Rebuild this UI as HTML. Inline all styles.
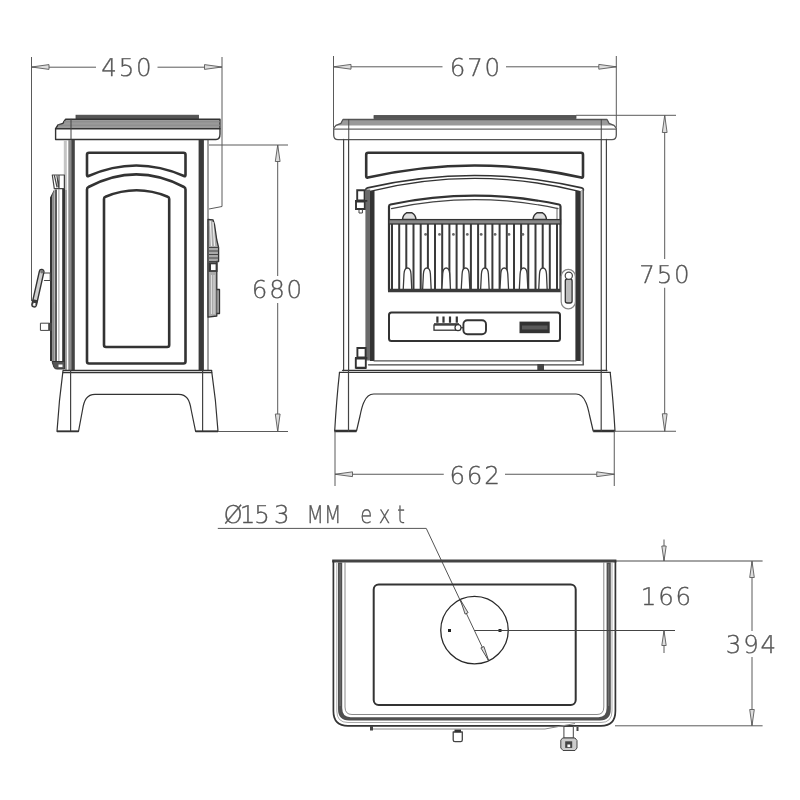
<!DOCTYPE html>
<html lang="en">
<head>
<meta charset="utf-8">
<title>Stove dimensions</title>
<style>
html,body{margin:0;padding:0;background:#fff;}
body{width:800px;height:800px;overflow:hidden;}
svg{display:block;}
.k{fill:none;stroke:#333;stroke-width:1.4;stroke-linejoin:round;stroke-linecap:round;}
.p{fill:none;stroke:#333;stroke-width:2.6;stroke-linejoin:round;}
.k2{fill:none;stroke:#444;stroke-width:1;stroke-linejoin:round;stroke-linecap:round;}
.g{fill:none;stroke:#8a8a8a;stroke-width:1;}
.d{fill:none;stroke:#5a5a5a;stroke-width:1;}
.a{fill:#ddd;stroke:#5a5a5a;stroke-width:0.9;stroke-linejoin:miter;}
.f{fill:#555;stroke:#444;stroke-width:0.8;}
text{text-rendering:geometricPrecision;font-family:"DejaVu Sans Light","DejaVu Sans","Liberation Sans",sans-serif;font-weight:200;font-size:24.5px;fill:#555;stroke:#555;stroke-width:0.35px;}
.dm{letter-spacing:1.8px;}
#all{opacity:0.999;filter:blur(0.4px);}
</style>
</head>
<body>
<svg width="800" height="800" viewBox="0 0 800 800">
<rect width="800" height="800" fill="#fff"/>
<g id="all">
<!-- ============ SIDE VIEW ============ -->
<g id="side">
<!-- dimension 450 -->
<path class="d" d="M31.5,57V301 M222,57V145 M31.5,67.2H96 M157.5,67.2H222"/>
<path class="a" d="M31.5,67 L49,64.6 L49,69.4Z M222,67 L204.5,64.6 L204.5,69.4Z"/>
<text class="dm" x="127.4" y="76" text-anchor="middle">450</text>
<!-- hob plate -->
<rect class="f" x="76" y="115.2" width="122.5" height="3.4"/>
<!-- top slab -->
<path d="M58,125 L63,123.3 L64,121.3 L65.5,119.3 H220 V128.7 H55.6 Z" fill="#9a9a9a" stroke="none"/>
<path class="k" d="M65.5,119.3 H220 V134 Q220,139.5 216,139.5 H55.6 V128.7 L58,125 L63,123.3 L64,121.3 Z"/>
<path class="k" d="M55.6,128.7 H220"/>
<path class="g" d="M64,121.8 H220 M58,125.2 H220"/>
<path class="k2" d="M71,119.3 V139.5"/>
<!-- body left edge -->
<rect x="63.8" y="140" width="3" height="50" fill="#c4c4c4"/>
<rect x="65" y="190" width="1.9" height="180.5" fill="#9c9c9c"/>
<rect x="68.3" y="140" width="3.2" height="230.5" fill="#8a8a8a"/>
<rect x="71.3" y="140" width="3.5" height="230.5" fill="#444"/>
<!-- body right edge -->
<rect x="198.6" y="140" width="5.3" height="230.5" fill="#3a3a3a"/>
<path class="k2" d="M208,140 V370.5"/>
<!-- back box -->
<path class="d" d="M209,145 H222 V206.5 L209,209"/>
<!-- panels -->
<path class="p" d="M89,152.7 H183.5 Q185.5,152.7 185.5,154.7 V175 Q185.5,176.8 184,176 Q136.3,155 88.5,176 Q87,176.8 87,175 V154.7 Q87,152.7 89,152.7Z"/>
<path class="p" d="M87,189.5 Q87,187.6 88.5,187 Q136.3,161.8 184,187 Q185.5,187.6 185.5,189.5 V361.5 Q185.5,363.5 183.5,363.5 H89 Q87,363.5 87,361.5Z"/>
<path class="p" d="M104,199 Q104,197.3 105.5,196.8 Q136.6,183.8 167.7,196.8 Q169.2,197.3 169.2,199 V345 Q169.2,347 167.2,347 H106 Q104,347 104,345Z"/>
<!-- left door -->
<path class="k2" style="stroke-width:1.2" d="M52.3,175 H64.4 V188.7 H54.3 Z M54.5,176 L57,187 M57,176 L58.5,187 M59,175 V188.7"/>
<path d="M54.2,189.5 L50,197.5 V361 H52.5 V196 L54.2,193Z" fill="#333"/>
<path d="M54.6,189.5 L52.5,194 V361 H54.7Z" fill="#888"/>
<rect x="55" y="189.5" width="2" height="171.5" fill="#5a5a5a"/>
<path d="M58.9,189 V361" stroke="#9a9a9a" stroke-width="1" fill="none"/>
<rect x="62.2" y="189" width="2.8" height="173" fill="#333"/>
<path d="M52,361.5 L54,367.5 Q55,369 57,369 H64.6 V361.5Z" fill="#555" stroke="#333" stroke-width="1"/>
<rect x="58.5" y="364.5" width="4" height="2.6" fill="#fff"/>
<!-- handle -->
<path class="k2" style="stroke-width:1.2" d="M44.5,273 H50.3 V280.5 H44.5"/>
<path d="M41.6,271.8 L34.2,304.6" stroke="#333" stroke-width="6" stroke-linecap="round" fill="none"/>
<path d="M41.6,271.8 L34.2,304.6" stroke="#d0d0d0" stroke-width="3.2" stroke-linecap="round" fill="none"/>
<path d="M35.3,299.8 L34.2,304.8" stroke="#3a3a3a" stroke-width="5" fill="none"/>
<path d="M34.6,303 L34.1,305.3" stroke="#fff" stroke-width="2.2" fill="none"/>
<circle cx="41.9" cy="271.8" r="1.7" fill="#777"/>
<!-- knob -->
<rect class="k2" x="40.8" y="323.2" width="8" height="7.2"/>
<rect x="48.6" y="322.8" width="3.2" height="8" fill="#444"/>
<!-- right thermostat -->
<path d="M208,219.3 L213,219.8 L214.6,225 L216.8,240 L218.6,247.5 V261.5 H216.8 V273 V289.5 H219.5 V313.5 H216.8 V316 L208,317.2 Z" fill="#aaa" stroke="#333" stroke-width="1.3" stroke-linejoin="round"/>
<path d="M210.3,221 L211.5,246 M213,222 L214.6,246" stroke="#eee" stroke-width="1.2" fill="none"/>
<path d="M209,247.5 H218.6 M209,251 H218.6 M209,254.5 H218.6 M209,258 H218.6 M209,261.5 H218.6" stroke="#444" stroke-width="1" fill="none"/>
<rect x="208.6" y="262.3" width="9" height="9.6" fill="#3a3a3a"/>
<rect x="211" y="264.3" width="4.6" height="5.8" fill="#fff"/>
<path d="M211.5,275 V314 M214,275 V314" stroke="#ddd" stroke-width="1" fill="none"/>
<path d="M216.8,289.5 V313.5" stroke="#444" stroke-width="1" fill="none"/>
<!-- base -->
<path class="k" style="stroke-width:1.3" d="M63.5,370.5 H211.6"/>
<path class="k" style="stroke-width:1.1" d="M63,372.6 H211.8"/>
<path class="k" style="stroke-width:1.2" d="M63,370.6 Q59,400 57,431.4 H78.5 L82.5,410 C84,400 87,394.3 95,394.3 H178.7 C186.7,394.3 189.7,400 191.2,410 L195.6,431.4 H218 Q216,400 211.6,370.6"/>
<path class="k2" style="stroke-width:1.2" d="M70.6,370.6 V431.4 M202.6,370.6 V431.4"/>
<path d="M57,431.4 H78.5 M195.6,431.4 H218" stroke="#333" stroke-width="1.8" fill="none"/>
<!-- dimension 680 -->
<path class="d" d="M222,145 H288 M218,431.5 H288 M277.7,145 V276 M277.7,303 V431.5"/>
<path class="a" d="M277.7,145 L275.3,161.5 H280.1Z M277.7,431.5 L275.3,414 H280.1Z"/>
<text class="dm" x="277.9" y="298" text-anchor="middle">680</text>
</g>
<!-- ============ FRONT VIEW ============ -->
<g id="front">
<!-- dimension 670 -->
<path class="d" d="M333.5,56V127.5 M616.3,56V127.5 M333.5,66.8H442.5 M506,66.8H616.3"/>
<path class="a" d="M333.5,66.8 L351,64.4 L351,69.2Z M616.3,66.8 L598.8,64.4 L598.8,69.2Z"/>
<text class="dm" x="475.9" y="76.2" text-anchor="middle">670</text>
<!-- hob plate -->
<rect class="f" x="374" y="115.6" width="202" height="2.8"/>
<!-- slab -->
<path d="M336,125.6 L341,123.5 L342,121.3 L343,119.4 H607 L608,121.3 L609,123.5 L614,125.6 Z" fill="#9a9a9a"/>
<path d="M343,119.5 H607 L608,121.3 L609,123.3 L614,125.4 L616.3,128.2 V135 Q616.3,139.6 612,139.6 H338 Q333.7,139.6 333.7,135 V128.2 L336,125.4 L341,123.3 L342,121.3Z" fill="none" stroke="#555" stroke-width="1.3" stroke-linejoin="round"/>
<path d="M333.7,129.2 H616.3" fill="none" stroke="#666" stroke-width="1.3"/>
<path class="k2" d="M348.75,119.5 V139.3 M601.25,119.5 V139.3"/>
<!-- body sides -->
<path class="k2" style="stroke-width:1.2" d="M343.6,139.3 V370.7 M348.6,139.3 V370.7 M601.25,139.3 V370.7 M606.4,139.3 V370.7"/>
<!-- upper panel -->
<path class="p" d="M368.2,152.7 H581 Q583,152.7 583,154.7 V176.3 Q583,178.2 581.3,177.6 Q474.6,153.4 367.9,177.6 Q366.2,178.2 366.2,176.3 V154.7 Q366.2,152.7 368.2,152.7Z"/>
<!-- door -->
<path class="k" style="stroke-width:1.6" d="M365.7,190 Q365.7,188.3 367.5,187.9 Q474.6,163.1 581.7,187.9 Q583.5,188.3 583.5,190"/>
<path class="k" style="stroke-width:1.3" d="M370,191.3 Q474.6,165.5 579.3,191.3"/>
<rect x="365.4" y="189.5" width="4.8" height="171" fill="#6a6a6a"/>
<rect x="370" y="191" width="4.5" height="170" fill="#333"/>
<rect x="575.4" y="191" width="5.4" height="170" fill="#333"/>
<rect x="580.8" y="190" width="1.8" height="172" fill="#c4c4c4"/>
<path d="M583.2,189.5 V364.8" stroke="#444" stroke-width="1.4" fill="none"/>
<path class="k" style="stroke-width:1.3;stroke:#555" d="M374,360.8 H576"/>
<path class="k" style="stroke-width:1.3;stroke:#444" d="M368.5,364.8 H583.5"/>
<!-- glass frame -->
<path class="k" style="stroke-width:2.2" d="M389,206.5 Q389,204.8 390.5,204.5 Q474.7,186.9 559,204.5 Q560.5,204.8 560.5,206.5 V290.5 H389Z"/>
<path class="k2" style="stroke-width:1.2" d="M391.5,208.6 Q474.7,190.8 558,208.6"/>
<path class="k2" d="M557,208 V289" style="stroke:#666"/>
<!-- grate -->
<path style="fill:none;stroke:#3a3a3a;stroke-width:2" d="M392.0,224 V289 M399.2,224 V289 M406.3,224 V289 M413.5,224 V289 M420.7,224 V289 M427.9,224 V289 M435.0,224 V289 M442.2,224 V289 M449.4,224 V289 M456.6,224 V289 M463.7,224 V289 M470.9,224 V289 M478.1,224 V289 M485.3,224 V289 M492.4,224 V289 M499.6,224 V289 M506.8,224 V289 M514.0,224 V289 M521.1,224 V289 M528.3,224 V289 M535.5,224 V289 M542.7,224 V289 M549.8,224 V289 M557.0,224 V289"/>
<path d="M403.2,290 L404.0,274 Q404.4,268 407.5,268 Q410.6,268 411.0,274 L411.8,290Z M422.6,290 L423.4,274 Q423.8,268 426.9,268 Q430.0,268 430.4,274 L431.2,290Z M441.9,290 L442.7,274 Q443.1,268 446.2,268 Q449.3,268 449.7,274 L450.5,290Z M461.2,290 L462.1,274 Q462.4,268 465.6,268 Q468.7,268 469.1,274 L469.9,290Z M480.6,290 L481.4,274 Q481.8,268 484.9,268 Q488.0,268 488.4,274 L489.2,290Z M499.9,290 L500.8,274 Q501.1,268 504.2,268 Q507.4,268 507.8,274 L508.6,290Z M519.3,290 L520.1,274 Q520.5,268 523.6,268 Q526.7,268 527.1,274 L527.9,290Z M538.7,290 L539.5,274 Q539.9,268 543.0,268 Q546.1,268 546.5,274 L547.2,290Z" fill="#fff" stroke="#3a3a3a" stroke-width="1.3"/>
<circle cx="425.6" cy="234.4" r="1.4" fill="#666"/>
<circle cx="439.5" cy="234.4" r="1.4" fill="#666"/>
<circle cx="453.4" cy="234.4" r="1.4" fill="#666"/>
<circle cx="467.3" cy="234.4" r="1.4" fill="#666"/>
<circle cx="481.2" cy="234.4" r="1.4" fill="#666"/>
<circle cx="495.1" cy="234.4" r="1.4" fill="#666"/>
<circle cx="509.0" cy="234.4" r="1.4" fill="#666"/>
<circle cx="522.9" cy="234.4" r="1.4" fill="#666"/>
<rect x="389" y="219.6" width="171.5" height="4.4" fill="#888" stroke="#333" stroke-width="1.3"/>
<path d="M402.5,219.4 Q403,214.5 406.5,212.8 H412 Q415.5,214.5 416,219.4Z M533,219.4 Q533.5,214.5 537,212.8 H542.5 Q546,214.5 546.5,219.4Z" fill="#ddd" stroke="#333" stroke-width="1.4"/>
<path d="M388,290.5 H561.5" stroke="#3a3a3a" stroke-width="3.6" fill="none"/>
<!-- control panel -->
<rect class="p" style="stroke-width:2" x="389" y="312.6" width="171" height="28.3" rx="2.5"/>
<rect x="434" y="325" width="22.5" height="5.2" fill="#fff" stroke="#333" stroke-width="1.3"/>
<path d="M437.4,316.4 V322.8 M443.5,316.4 V322.8 M450,316.4 V322.8 M456.8,316.4 V322.8" stroke="#333" stroke-width="2.2" fill="none"/>
<path d="M434,324 H459" stroke="#333" stroke-width="1.6"/>
<circle cx="458" cy="327.7" r="3" fill="#fff" stroke="#333" stroke-width="1.2"/>
<path d="M461,327.7 H463.5" stroke="#333" stroke-width="1.2"/>
<rect class="p" style="stroke-width:1.9" x="463.4" y="320.2" width="22.6" height="14" rx="4"/>
<rect x="519.5" y="321.6" width="30.2" height="11.6" fill="#333"/>
<rect x="522" y="325.5" width="25.5" height="4" fill="#5a5a5a"/>
<!-- handle front -->
<rect x="561.2" y="269.4" width="14.2" height="39.4" rx="7.1" fill="#fff" stroke="#888" stroke-width="1.2"/>
<rect x="565.3" y="279" width="6.8" height="24" rx="2" fill="#bbb" stroke="#333" stroke-width="1.3"/>
<circle cx="568.8" cy="275.8" r="3.6" fill="#fff" stroke="#444" stroke-width="1.2"/>
<!-- hinges -->
<path d="M357.2,190.3 H364.6 V200.5 H357.2Z M356,201.6 H364.8 V209 H356Z" fill="#fff" stroke="#333" stroke-width="1.9"/>
<path d="M355,200.8 H367.3 M356,208.8 H365" stroke="#333" stroke-width="1.8" fill="none"/>
<path d="M359,209.5 V213 H362.4 V209.5" fill="none" stroke="#444" stroke-width="1"/>
<path d="M357.4,348 H365.6 V357.4 H357.4Z M355.8,358.6 H365.8 V367.8 H355.8Z" fill="#fff" stroke="#333" stroke-width="1.9"/>
<path d="M355,358 H367.3 M356,368 H366" stroke="#333" stroke-width="1.8" fill="none"/>
<rect x="537.3" y="364" width="6.7" height="6.5" fill="#444"/>
<!-- base -->
<path class="k" style="stroke-width:1.2" d="M342.5,370.3 H607"/>
<path class="k" style="stroke-width:1.3" d="M339.5,372.4 H610.2"/>
<path class="k" style="stroke-width:1.2" d="M339.5,372.4 Q336.5,400 334.7,431 M356.5,431 L360,416 Q362,406 364,402 Q367.5,394 373.75,394 H576 Q582.2,394 585.7,402 Q587.7,406 589.7,416 L593.2,431 M615,431 Q613.2,400 610.2,372.4"/>
<path d="M334.5,431 H356.5 M593.2,431 H615" stroke="#333" stroke-width="2.6" fill="none"/>
<path class="k2" style="stroke-width:1.2" d="M348.5,370.3 V431 M601.2,370.3 V431"/>
<!-- dimension 662 -->
<path class="d" d="M335,431.25 V486 M614.25,431.25 V486 M335,474.25 H443.75 M505,474.25 H614.25"/>
<path class="a" d="M335,474.25 L352.5,471.85 V476.65Z M614.25,474.25 L596.75,471.85 V476.65Z"/>
<text class="dm" x="475.5" y="483.7" text-anchor="middle">662</text>
<!-- dimension 750 -->
<path class="d" d="M576,115.3 H676 M614.25,431.25 H676 M664.7,115.3 V259 M664.7,287.75 V431.25"/>
<path class="a" d="M664.7,115.3 L662.3,132.5 H667.1Z M664.7,431.25 L662.3,413.75 H667.1Z"/>
<text class="dm" x="665.4" y="282.5" text-anchor="middle">750</text>
</g>
<!-- ============ PLAN VIEW ============ -->
<g id="plan">
<!-- leader and label -->
<path class="d" style="stroke:#555" d="M217.8,528.4 H426.25 L488.7,660.8"/>
<text y="523.4"><tspan x="223.6 239.8 254.3 273.9">Ø153</tspan></text>
<text x="306.5" y="523.4" textLength="35" lengthAdjust="spacingAndGlyphs">MM</text>
<text transform="translate(360.2,523.4) scale(0.8,1)" letter-spacing="8.6">ext</text>
<!-- outer body -->
<path d="M332.2,561 H762.6" stroke="#4a4a4a" stroke-width="1.2" fill="none"/>
<path d="M332.2,561 H616.4" stroke="#444" stroke-width="2.8" fill="none"/>
<path class="k" style="stroke-width:1.7" d="M333.4,561 V711 Q333.4,725.8 348,725.8 H601 Q615.4,725.8 615.4,711 V561"/>
<path class="g" style="stroke:#aaa" d="M336.8,562 V711 Q336.8,722.5 348,722.5 H601 Q612,722.5 612,711 V562"/>
<path d="M338,562.5 V709 Q338,720.4 349,720.4 H600 Q610.8,720.4 610.8,709 V562.5 H606.6 V708 Q606.6,717.2 598.5,717.2 H350.5 Q342.2,717.2 342.2,708 V562.5 Z" fill="#505050"/>
<path d="M340.1,564 V706" stroke="#777" stroke-width="1" fill="none"/>
<path d="M608.7,564 V706" stroke="#777" stroke-width="1" fill="none"/>
<path class="g" d="M345,562 V707 Q345,714.5 352,714.5 H597 Q603.8,714.5 603.8,707 V562"/>
<!-- inner plate -->
<rect class="k" style="stroke-width:2" x="373.7" y="584.4" width="202" height="120.6" rx="5"/>
<!-- flue -->
<circle cx="474.5" cy="630.2" r="33.75" fill="none" stroke="#2a2a2a" stroke-width="1.3"/>
<rect x="448" y="629" width="3" height="3" fill="#222"/>
<rect x="498.5" y="629" width="3" height="3" fill="#222"/>
<path class="d" style="stroke:#444" d="M474.5,630.5 H675"/>
<path class="a" style="stroke:#444" d="M460.3,599.6 L468.1,612.7 L465.1,614.1Z M488.7,660.8 L483.9,646.5 L480.9,647.9Z"/>
<!-- below -->
<path class="g" d="M373,729 H545 L575,723.5"/>
<rect x="370" y="726" width="3" height="4.5" fill="#444"/>
<rect x="576.5" y="727" width="2" height="4" fill="#444"/>
<path class="k2" style="fill:#fff;stroke-width:1.3" d="M453.2,732 H462.3 V740 Q462.3,741.6 460.6,741.6 H455 Q453.2,741.6 453.2,740Z"/>
<rect x="454.5" y="729.6" width="6.5" height="2.6" fill="#333"/>
<path class="k2" style="fill:#fff" d="M564.3,726.5 H573.3 V738 H564.3Z"/>
<path class="k2" style="fill:#ccc" d="M563,738 H575 L577,740.5 V748 L575,750.5 H563 L560.8,748 V740.5Z"/>
<rect x="565.2" y="741.3" width="7" height="6.6" fill="#444"/>
<rect x="567.4" y="744.5" width="2.8" height="2.6" fill="#fff"/>
<!-- dimension 166 -->
<path class="d" d="M664,539.5 V561 M664,630.5 V653"/>
<path class="a" d="M664,561 L661.8,546 H666.2Z M664,630.5 L661.8,645.5 H666.2Z"/>
<text class="dm" x="666.9" y="604.5" text-anchor="middle">166</text>
<!-- dimension 394 -->
<path class="d" d="M615,725.8 H762.6 M752,561.25 V631 M752,657 V725.7"/>
<path class="a" d="M752,561.25 L749.7,577.5 H754.3Z M752,725.7 L749.7,709.5 H754.3Z"/>
<text class="dm" x="751.9" y="653" text-anchor="middle">394</text>
</g>
</g>
</svg>
</body>
</html>
